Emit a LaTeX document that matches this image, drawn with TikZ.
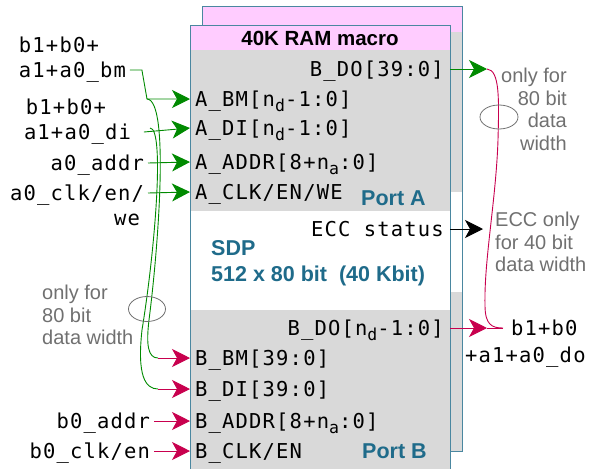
\documentclass[tikz,border=0pt]{standalone}
\usepackage{fontspec}
\setmainfont{Liberation Sans}
\newfontfamily\monofont[LetterSpace=5.7]{DejaVu Sans Mono}
\usetikzlibrary{arrows.meta, positioning, calc}

\definecolor{headpink}{HTML}{FFCCFF}
\definecolor{portgray}{HTML}{D9D9D9}
\definecolor{boxline}{HTML}{4A87A0}
\definecolor{portteal}{HTML}{1F6B8A}
\definecolor{agreen}{HTML}{008A00}
\definecolor{bred}{HTML}{C8004E}
\definecolor{notegray}{HTML}{707070}

\newcommand{\sub}[1]{\raisebox{-5pt}{\fontsize{16.5}{16.5}\selectfont #1}}

\begin{document}
\begin{tikzpicture}[x=1pt, y=-1pt,
	sig/.style={font=\monofont\fontsize{20.5}{24}\selectfont, inner sep=0pt, text height=15pt, text depth=0pt},
	lbl/.style={sig, outer sep=4pt},
	note/.style={font=\fontsize{20}{22.5}\selectfont, text=notegray, inner sep=0pt},
	teal/.style={font=\bfseries\fontsize{21.5}{26}\selectfont, text=portteal, inner sep=0pt},
	wire/.style={line width=0.9pt},
	tip/.style={-{Stealth[length=18pt, width=18pt, inset=5pt]}},
	gline/.style={wire, agreen},
	rline/.style={wire, bred},
	garrow/.style={gline, tip},
	rarrow/.style={rline, tip},
	karrow/.style={wire, black, tip}]
	\useasboundingbox (0,0) rectangle (598,469);
	
	% back macro
	\fill[headpink] (202,6) rectangle (462,32);
	\fill[portgray] (202,32) rectangle (462,192);
	\fill[portgray] (202,292) rectangle (462,451);
	\draw[boxline, line width=1pt] (202,6) rectangle (462,451);
	
	% front macro
	\fill[white] (190,25) rectangle (450,474);
	\fill[headpink] (190,25) rectangle (450,50);
	\fill[portgray] (190,50) rectangle (450,211);
	\fill[portgray] (190,310) rectangle (450,474);
	\draw[boxline, line width=1pt] (190,474) -- (190,25) -- (450,25) -- (450,474);
	\coordinate (ramW) at (190,25);
	\coordinate (ramE) at (450,25);
	
	\node[anchor=base, font=\bfseries\fontsize{20.5}{24}\selectfont] (title) at (320,45) {40K RAM macro};
	
	% port A
	\node[sig, anchor=east] (ado) at (444,69) {B\_DO[39:0]};
	\node[sig, anchor=west] (abm) at (195,99) {A\_BM[n\sub{d}-1:0]};
	\node[sig, anchor=west] (adi) at (195,128) {A\_DI[n\sub{d}-1:0]};
	\node[sig, anchor=west] (aaddr) at (195,162) {A\_ADDR[8+n\sub{a}:0]};
	\node[sig, anchor=west] (aclk) at (195,192) {A\_CLK/EN/WE};
	\node[teal, anchor=base west] (porta) at (361,205) {Port A};
	
	\node[sig, anchor=east] (ecc) at (444,229) {ECC status};
	\node[teal, anchor=north west, align=left] (sdp) at (211,240) {SDP\\512 x 80 bit\ \ (40 Kbit)};
	
	% port B
	\node[sig, anchor=east] (bdo) at (444,328) {B\_DO[n\sub{d}-1:0]};
	\node[sig, anchor=west] (bbm) at (195,358) {B\_BM[39:0]};
	\node[sig, anchor=west] (bdi) at (195,389) {B\_DI[39:0]};
	\node[sig, anchor=west] (baddr) at (195,421) {B\_ADDR[8+n\sub{a}:0]};
	\node[sig, anchor=west] (bclk) at (195,451) {B\_CLK/EN};
	\node[teal, anchor=base west] (portb) at (362,458) {Port B};
	
	% inputs
	\node[lbl, anchor=west] (bm1) at (15,45) {b1+b0+};
	\node[lbl, anchor=west] (bm2) at ([yshift=-25pt]bm1.west) {a1+a0\_bm};
	\node[lbl, anchor=west] (di1) at (22,107) {b1+b0+};
	\node[lbl, anchor=west] (di2) at (20,132) {a1+a0\_di};
	\node[lbl, anchor=east] (inaddr) at (148,163) {a0\_addr};
	\node[lbl, anchor=east] (clk1) at (148,193) {a0\_clk/en/};
	\node[lbl, anchor=east] (clk2) at ([shift={(-4pt,-25pt)}]clk1.east) {we};
	\node[lbl, anchor=east] (binaddr) at (154,421) {b0\_addr};
	\node[lbl, anchor=east] (binclk) at (154,451) {b0\_clk/en};
	
	\coordinate (jbm) at (abm.west -| 147,0);
	\coordinate (jdi) at (adi.west -| 150,0);
	\coordinate (kbm) at (bbm.west -| 158,0);
	\coordinate (kdi) at (bdi.west -| 158,0);
	
	\draw[garrow] (bm2.east) -- ++(12,0) -- (jbm) -- (abm.west -| ramW);
	\draw[garrow] ([xshift=9pt]di2.east) -- (adi.west -| ramW);
	\draw[garrow] (inaddr.east) -- (aaddr.west -| ramW);
	\draw[garrow] (clk1.east) -- (aclk.west -| ramW);
	
	% A inputs to port B
	\draw[gline] (jbm) .. controls +(23,1) and +(9,-70) .. (149,320) .. controls +(-3,25) and +(-10,0) .. (kbm);
	\draw[gline] (jdi) .. controls +(15,0) and +(13,-80) .. (142,330) .. controls +(-5,45) and +(-13,0) .. (kdi);
	\draw[rarrow] (kbm) -- (bbm.west -| ramW);
	\draw[rarrow] (kdi) -- (bdi.west -| ramW);
	\draw[rarrow] (binaddr.east) -- (baddr.west -| ramW);
	\draw[rarrow] (binclk.east) -- (bclk.west -| ramW);
	\draw[notegray, line width=0.8pt] (147,309) ellipse [x radius=18.5, y radius=12.5];
	\node[note, anchor=north west, align=left] (noteb) at (42,285) {only for\\80 bit\\data width};
	
	% outputs
	\coordinate (gdo) at (487,69);
	\coordinate (mdo) at (487,328);
	\coordinate (jdo) at (503,328);
	\draw[garrow] (ado.east -| ramE) -- (gdo);
	\draw[karrow] (ecc.east -| ramE) -- ++(33,0);
	\draw[rarrow] (bdo.east -| ramE) -- (mdo);
	\draw[rline] (mdo) -- (jdo);
	\draw[rline] (gdo) .. controls +(13,1) and +(1,-40) .. (498,140) .. controls +(-2,60) and +(-1,-45) .. (485,305) .. controls +(0,20) and +(-11,0) .. (jdo);
	\draw[notegray, line width=0.8pt] (499,117) ellipse [x radius=19, y radius=12];
	\node[note, anchor=north east, align=right] (notea) at (567,68) {only for\\80 bit\\data\\width};
	\node[note, anchor=north west, align=left] (noteecc) at (495,212) {ECC only\\for 40 bit\\data width};
	
	\node[sig, anchor=west] (do1) at (511,328) {b1+b0};
	\node[sig, anchor=west] (do2) at (465,355) {+a1+a0\_do};
\end{tikzpicture}
\end{document}
